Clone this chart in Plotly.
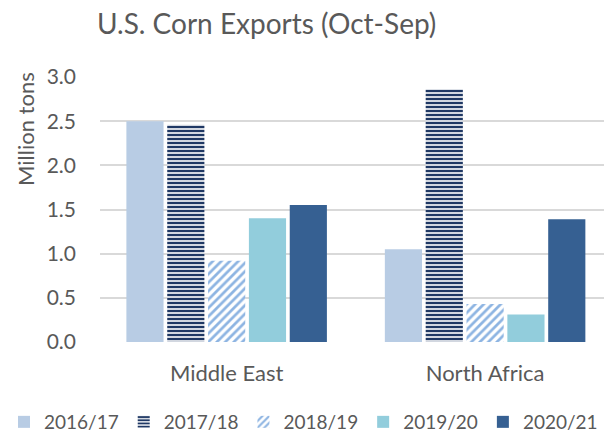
import plotly.graph_objects as go

categories = ["Middle East", "North Africa"]
seasons = ["2016/17", "2017/18", "2018/19", "2019/20", "2020/21"]
v_2016_17 = [2.50, 1.05]
v_2017_18 = [2.46, 2.86]
v_2018_19 = [0.92, 0.43]
v_2019_20 = [1.40, 0.31]
v_2020_21 = [1.55, 1.39]
values = [v_2016_17, v_2017_18, v_2018_19, v_2019_20, v_2020_21]

styles = [
    dict(color="#B8CCE4"),
    dict(color="white", pattern=dict(shape="-", fgcolor="#1F3864", bgcolor="white",
                                     fgopacity=1, size=4, solidity=0.6)),
    dict(color="white", pattern=dict(shape="/", fgcolor="#8DB4E2", bgcolor="white",
                                     fgopacity=1, size=6, solidity=0.45)),
    dict(color="#92CDDC"),
    dict(color="#366092"),
]

fig = go.Figure()
for name, vals, st in zip(seasons, values, styles):
    fig.add_trace(go.Bar(x=categories, y=vals, name=name,
                         marker=dict(**st, line=dict(width=0))))

font = "Lato, Calibri, sans-serif"
grey = "#595959"
fig.update_layout(
    width=604, height=436,
    margin=dict(l=100, r=0, t=77, b=94, autoexpand=False),
    paper_bgcolor="white", plot_bgcolor="white",
    barmode="group", bargap=0.21, bargroupgap=0.09,
    font=dict(family=font, color=grey, size=20),
    title=dict(text="U.S. Corn Exports (Oct-Sep)", x=97/604, xanchor="left",
               y=1 - 24/436, yanchor="middle",
               font=dict(size=28, color=grey, family=font)),
    xaxis=dict(range=[-0.49, 1.46], showgrid=False, zeroline=False, showline=False,
               ticks="", ticklabelstandoff=16, tickfont=dict(size=22, color=grey)),
    yaxis=dict(range=[0, 3.0], dtick=0.5, tickformat=".1f", showgrid=True,
               gridcolor="#D9D9D9", gridwidth=1.5, zeroline=False, showline=False,
               ticks="", ticklabelstandoff=23,
               tickfont=dict(size=21, color=grey)),
    annotations=[dict(text="Million tons", textangle=-90, xref="paper", yref="paper",
                      x=(25 - 100) / 504, y=(342 - 129) / 265, xanchor="center",
                      yanchor="middle", showarrow=False,
                      font=dict(size=22, color=grey, family=font))],
    legend=dict(orientation="h", x=(4 - 100) / 504, xanchor="left",
                y=-(422 - 342) / 265, yanchor="middle",
                font=dict(size=19, color=grey), itemwidth=30,
                traceorder="normal"),
)

fig.write_html("out.html", config={"displayModeBar": False},
               post_script="document.body.style.margin='0';document.body.style.overflow='hidden';")
